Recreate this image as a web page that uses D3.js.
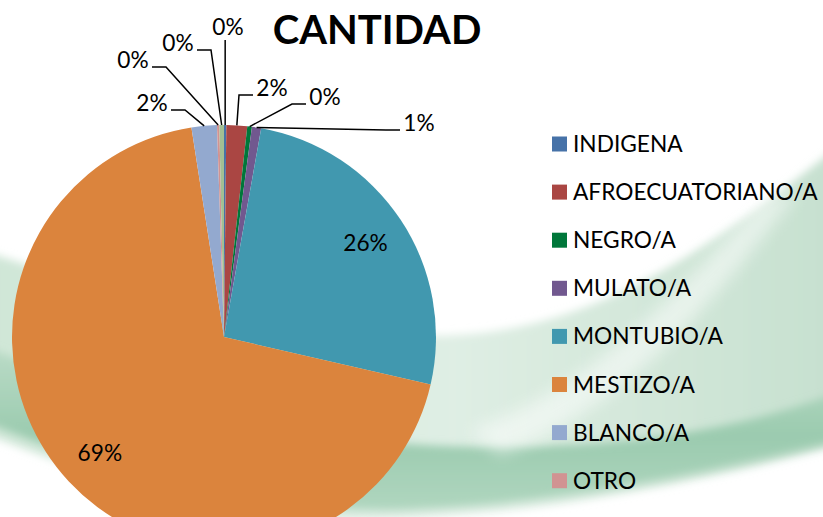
<!DOCTYPE html>
<html>
<head>
<meta charset="utf-8">
<script src="https://cdn.jsdelivr.net/npm/d3@7"></script>
<style>
  html, body { margin: 0; padding: 0; background: #fff; }
  svg { display: block; font-family: Lato, "Open Sans", sans-serif; }
</style>
</head>
<body>
<div id="container"></div>
<script>
const WIDTH = 823;
const HEIGHT = 517;

// data (counts, clockwise from 12 o'clock)
const categories = [
  "INDIGENA",
  "AFROECUATORIANO/A",
  "NEGRO/A",
  "MULATO/A",
  "MONTUBIO/A",
  "MESTIZO/A",
  "BLANCO/A",
  "OTRO",
  "NO RESPONDE"
];
const counts = [1, 9, 2, 4, 147, 393, 11, 1, 2];
const colors = [
  "#4672a8",
  "#aa4643",
  "#00773a",
  "#71588f",
  "#4198af",
  "#db843d",
  "#93a9cf",
  "#d19392",
  "#a3bf93"
];

// where the outside labels sit, relative to the pie centre (null = inside)
const labelSpots = [
  [4, -310],
  [48, -249],
  [101, -240],
  [195, -214],
  null,
  null,
  [-72, -234],
  [-91, -277],
  [-46, -294]
];

const CX = 224;
const CY = 337;
const R = 212;
const FONT = "22.7px";

const svg = d3
  .select("#container")
  .append("svg")
  .attr("width", WIDTH)
  .attr("height", HEIGHT);

// slide background swooshes
const defs = svg.append("defs");

const g1 = defs
  .append("linearGradient")
  .attr("id", "lightBand")
  .attr("x1", "0")
  .attr("y1", "0")
  .attr("x2", "1")
  .attr("y2", "0");
g1.append("stop").attr("offset", "0").attr("stop-color", "#cfe6d7");
g1.append("stop").attr("offset", "0.55").attr("stop-color", "#dfeee4");
g1.append("stop").attr("offset", "1").attr("stop-color", "#c6e0cf");

const g2 = defs
  .append("linearGradient")
  .attr("id", "darkBand")
  .attr("x1", "0")
  .attr("y1", "0")
  .attr("x2", "0")
  .attr("y2", "1");
g2.append("stop").attr("offset", "0").attr("stop-color", "#bcdcc8");
g2.append("stop").attr("offset", "0.55").attr("stop-color", "#9bcbaf");
g2.append("stop").attr("offset", "1").attr("stop-color", "#b0d6bf");

defs
  .append("filter")
  .attr("id", "soft")
  .attr("x", "-10%")
  .attr("y", "-10%")
  .attr("width", "120%")
  .attr("height", "120%")
  .append("feGaussianBlur")
  .attr("stdDeviation", 4);

defs
  .append("filter")
  .attr("id", "softer")
  .append("feGaussianBlur")
  .attr("stdDeviation", 8);

const bg = svg.append("g").attr("class", "background");

bg.append("path")
  .attr(
    "d",
    "M-20,250 C150,305 330,345 470,334 C610,322 720,240 840,145 L840,445 C650,495 480,522 330,520 C200,517 90,475 -20,432 Z"
  )
  .style("fill", "url(#lightBand)")
  .attr("filter", "url(#soft)");

bg.append("path")
  .attr(
    "d",
    "M-20,345 C120,400 300,448 500,447 C650,446 750,425 840,392 L840,440 C680,480 520,508 390,510 C250,511 100,470 -20,420 Z"
  )
  .style("fill", "url(#darkBand)")
  .attr("filter", "url(#soft)");

bg.append("path")
  .attr("d", "M470,430 C560,400 650,330 760,200 L800,190 C700,320 620,410 500,455 Z")
  .style("fill", "#ffffff")
  .style("opacity", 0.5)
  .attr("filter", "url(#softer)");

// pie
const total = d3.sum(counts);
const rows = categories.map((c, i) => ({
  name: c,
  value: counts[i],
  color: colors[i],
  spot: labelSpots[i]
}));

const pie = d3
  .pie()
  .value(d => d.value)
  .sort(null);

const arc = d3.arc().innerRadius(0).outerRadius(R);
const inner = d3.arc().innerRadius(R * 0.8).outerRadius(R * 0.8);
const edge = d3.arc().innerRadius(R).outerRadius(R);

const pct = d => Math.round((d.data.value / total) * 100) + "%";

const chart = svg.append("g").attr("transform", `translate(${CX},${CY})`);

const arcs = pie(rows);

chart
  .selectAll(".slice")
  .data(arcs)
  .enter()
  .append("path")
  .attr("class", "slice")
  .attr("d", arc)
  .style("fill", d => d.data.color);

// inside labels
chart
  .selectAll(".in-label")
  .data(arcs.filter(d => !d.data.spot))
  .enter()
  .append("text")
  .attr("class", "in-label")
  .attr("transform", d => `translate(${inner.centroid(d)})`)
  .attr("dy", "0.35em")
  .style("text-anchor", "middle")
  .style("font-size", FONT)
  .style("fill", "#000")
  .text(pct);

// outside labels with leader lines
const outside = arcs.filter(d => d.data.spot);

chart
  .selectAll(".leader")
  .data(outside)
  .enter()
  .append("polyline")
  .attr("class", "leader")
  .attr("points", d => {
    const [ex, ey] = edge.centroid(d);
    const [lx, ly] = d.data.spot;
    if (Math.abs(lx - ex) < 6) {
      return [[ex, ey], [ex, ly + 13]].map(p => p.join(",")).join(" ");
    }
    const half = 17;
    const side = lx > ex ? -1 : 1;
    const x0 = lx + side * (half + 2);
    const x1 = x0 + side * 14;
    const y0 = ly + 7;
    return [[x0, y0], [x1, y0], [ex, ey]].map(p => p.join(",")).join(" ");
  })
  .style("fill", "none")
  .style("stroke", "#000")
  .style("stroke-width", 1.5);

chart
  .selectAll(".out-label")
  .data(outside)
  .enter()
  .append("text")
  .attr("class", "out-label")
  .attr("x", d => d.data.spot[0])
  .attr("y", d => d.data.spot[1])
  .attr("dy", "0.35em")
  .style("text-anchor", "middle")
  .style("font-size", FONT)
  .style("fill", "#000")
  .text(pct);

// title
svg
  .append("text")
  .attr("x", 377)
  .attr("y", 44)
  .style("text-anchor", "middle")
  .style("font-size", "40px")
  .style("font-weight", "bold")
  .style("fill", "#000")
  .text("CANTIDAD");

// LEGEND
const legendY = d3
  .scaleLinear()
  .domain([0, categories.length - 1])
  .range([144, 144 + 48.1 * (categories.length - 1)]);

const legend = svg
  .append("g")
  .attr("class", "legend")
  .selectAll(".item")
  .data(rows.filter((d, i) => legendY(i) < HEIGHT))
  .enter()
  .append("g")
  .attr("class", "item")
  .attr("transform", (d, i) => `translate(552,${legendY(i)})`);

legend
  .append("rect")
  .attr("x", 0)
  .attr("y", -7.5)
  .attr("width", 15)
  .attr("height", 15)
  .style("fill", d => d.color);

legend
  .append("text")
  .attr("x", 21)
  .attr("y", 8)
  .style("font-size", FONT)
  .style("fill", "#000")
  .text(d => d.name);
</script>
</body>
</html>
